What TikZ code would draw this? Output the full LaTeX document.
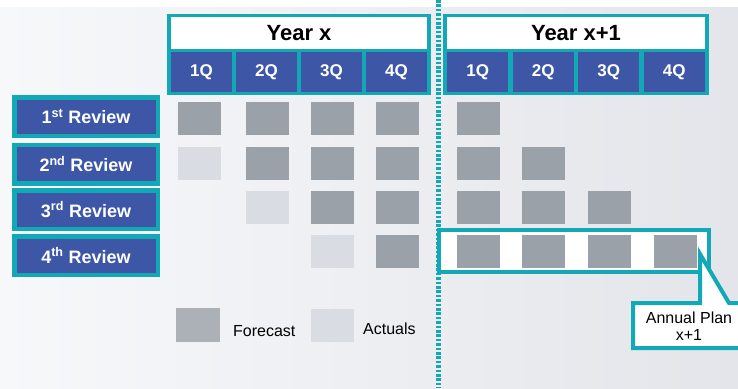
\documentclass[tikz,border=0pt]{standalone}
\usepackage{fontspec}
\setmainfont{Liberation Sans}
\definecolor{tealc}{RGB}{19,168,182}
\definecolor{qblue}{RGB}{61,86,166}
\definecolor{fcgray}{RGB}{155,161,168}
\definecolor{fclegend}{RGB}{172,177,184}
\definecolor{acgray}{RGB}{218,220,227}
\definecolor{bgleft}{RGB}{247,248,250}
\definecolor{bgright}{RGB}{228,229,234}
\tikzset{
  revbox/.style={draw=tealc, line width=4.5pt, fill=qblue, minimum width=143.5pt, minimum height=38.5pt, inner sep=0pt, text=white, font=\bfseries\fontsize{18}{20}\selectfont},
  qcell/.style={fill=qblue, minimum width=61pt, minimum height=40pt, inner sep=0pt, text=white, font=\bfseries\fontsize{17}{19}\selectfont},
  titlecell/.style={fill=white, inner sep=0pt, font=\bfseries\fontsize{22}{24}\selectfont},
  frame/.style={fill=tealc, inner sep=0pt},
  fc/.style={fill=fcgray, minimum width=43pt, minimum height=33pt, inner sep=0pt},
  ac/.style={fill=acgray, minimum width=43pt, minimum height=33pt, inner sep=0pt},
  lbl/.style={inner sep=0pt, font=\fontsize{16}{18}\selectfont},
}
\begin{document}
\begin{tikzpicture}[x=1pt,y=-1pt]
\useasboundingbox (0,0) rectangle (738,388);
\clip (0,0) rectangle (738,388);
\fill[white] (0,0) rectangle (738,388);
\shade[left color=bgleft, right color=bgright] (0,7) rectangle (738,388);
% dotted divider
\coordinate (dtop) at (438.5,0);
\coordinate (dbot) at (438.5,388);
\draw[tealc, line width=4.5pt, dash pattern=on 2.6pt off 1.8pt] (dtop) -- (dbot);
% Year x header
\node[frame, minimum width=264pt, minimum height=81pt] (hx) at (299,54.5) {};
\node[titlecell, minimum width=256pt, minimum height=32pt] (tx) at (299,33) {Year x};
\node[qcell] (x1) at (201.5,72) {1Q};
\node[qcell] (x2) at (266.5,72) {2Q};
\node[qcell] (x3) at (331.5,72) {3Q};
\node[qcell] (x4) at (396.5,72) {4Q};
% Year x+1 header
\node[frame, minimum width=266pt, minimum height=81pt] (hy) at (576,54.5) {};
\node[titlecell, minimum width=258pt, minimum height=32pt] (ty) at (576,33) {Year x+1};
\node[qcell] (y1) at (477.75,72) {1Q};
\node[qcell] (y2) at (543.25,72) {2Q};
\node[qcell] (y3) at (608.75,72) {3Q};
\node[qcell] (y4) at (674.25,72) {4Q};
% review boxes
\node[revbox] (r1) at (86,116.5) {1\textsuperscript{st} Review};
\node[revbox] (r2) at (86,164) {2\textsuperscript{nd} Review};
\node[revbox] (r3) at (86,209.5) {3\textsuperscript{rd} Review};
\node[revbox] (r4) at (86,255.5) {4\textsuperscript{th} Review};
% row 1
\node[fc] (s11) at (199.5,118.5) {};
\node[fc] (s12) at (267.5,118.5) {};
\node[fc] (s13) at (332.5,118.5) {};
\node[fc] (s14) at (397.5,118.5) {};
\node[fc] (s15) at (478.5,118.5) {};
% row 2
\node[ac] (s21) at (199.5,163) {};
\node[fc] (s22) at (267.5,163) {};
\node[fc] (s23) at (332.5,163) {};
\node[fc] (s24) at (397.5,163) {};
\node[fc] (s25) at (478.5,163) {};
\node[fc] (s26) at (543.5,163) {};
% row 3
\node[ac] (s32) at (267.5,207.5) {};
\node[fc] (s33) at (332.5,207.5) {};
\node[fc] (s34) at (397.5,207.5) {};
\node[fc] (s35) at (478.5,207.5) {};
\node[fc] (s36) at (543.5,207.5) {};
\node[fc] (s37) at (609.5,207.5) {};
% highlight box
\node[draw=tealc, fill=white, line width=4pt, minimum width=270pt, minimum height=42pt, inner sep=0pt] (hl) at (574,251) {};
% row 4
\node[ac] (s43) at (332.5,251.5) {};
\node[fc] (s44) at (397.5,251.5) {};
\node[fc] (s45) at (478.5,251.5) {};
\node[fc] (s46) at (543.5,251.5) {};
\node[fc] (s47) at (609.5,251.5) {};
\node[fc] (s48) at (675.5,251.5) {};
% callout
\coordinate (tip) at (700,254);
\draw[tealc, fill=white, line width=4pt, line join=miter]
  (633,303) -- (700,303) -- (tip) -- (729,303) -- (760,303) -- (760,348) -- (633,348) -- cycle;
\node[inner sep=0pt, align=center, font=\fontsize{16}{16.5}\selectfont] (plan) at (689,326) {Annual Plan\\x+1};
% legend
\node[fill=fclegend, minimum width=44pt, minimum height=34pt, inner sep=0pt] (lf) at (198,325) {};
\node[lbl, anchor=base west] (lft) at (233,336.5) {Forecast};
\node[ac, minimum width=43pt, minimum height=33pt] (la) at (332.5,325.5) {};
\node[lbl, anchor=base west] (lat) at (363,334.5) {Actuals};
\end{tikzpicture}
\end{document}
